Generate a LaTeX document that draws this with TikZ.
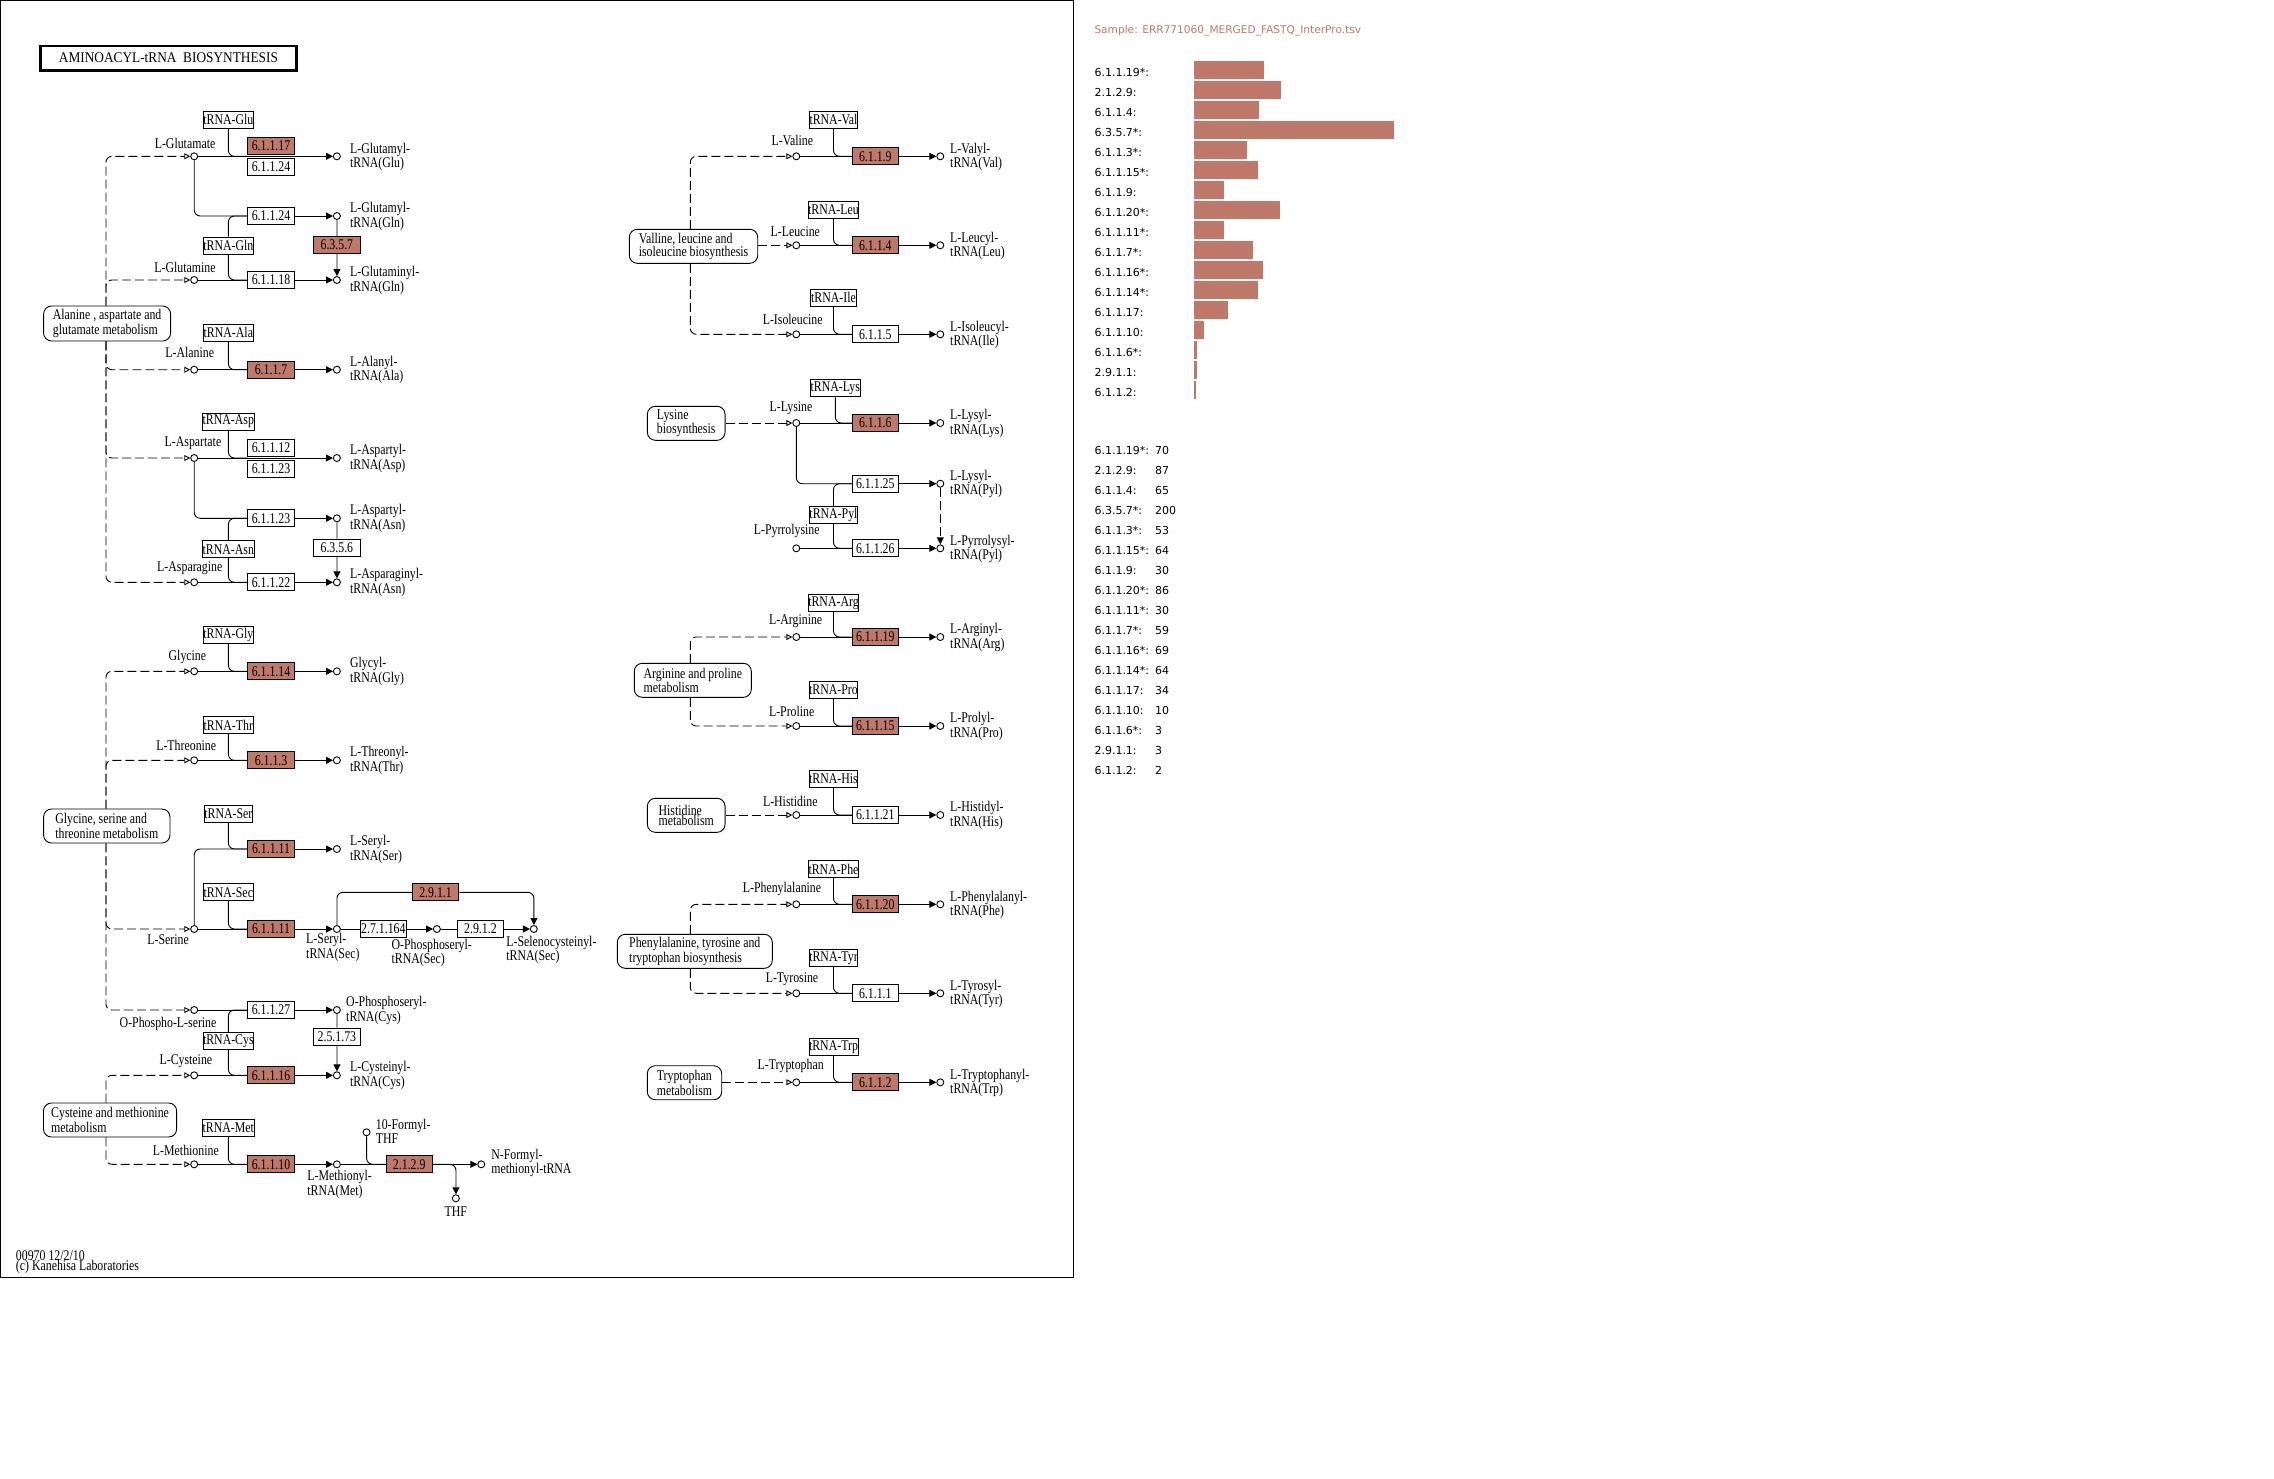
\documentclass[tikz,border=0pt]{standalone}
\usepackage{fontspec}
\usetikzlibrary{arrows.meta}
\newfontfamily\keggwide[FakeStretch=0.8]{Liberation Serif}
\newfontfamily\keggtitle[FakeStretch=0.9]{Liberation Serif}
\newfontfamily\panelfont{DejaVu Sans}
\newcommand\kgwtext{\keggwide\fontsize{14.8}{10.5}\selectfont}
\newcommand\kgwtitle{\keggtitle\fontsize{14.8}{16}\selectfont}
\newcommand\pntext{\panelfont\fontsize{11}{13}\selectfont}
\newcommand\pnsample{\panelfont\fontsize{10.6}{13}\selectfont}
\definecolor{keggred}{RGB}{191,121,107}
\begin{document}
\begin{tikzpicture}[x=1pt,y=-1pt,
  cpd/.style={circle,draw,line width=0.9pt,minimum size=7pt,inner sep=0pt,fill=white},
  ecbox/.style={draw,line width=0.9pt,minimum width=46.3pt,minimum height=17pt,inner sep=0pt,font=\kgwtext,fill=white},
  echi/.style={ecbox,fill=keggred},
  trna/.style={ecbox},
  ecboxR/.style={ecbox,minimum width=46pt},
  echiR/.style={echi,minimum width=46pt},
  trnaR/.style={ecbox,minimum width=46.4pt},
  lbl/.style={font=\kgwtext,inner sep=0pt,align=left},
  lblR/.style={lbl},
  mapbox/.style={draw,line width=0.9pt,rounded corners=8pt,font=\kgwtext,align=left,inner sep=0pt,fill=white},
  mapboxR/.style={mapbox},
  conn/.style={line width=0.9pt,rounded corners=6pt},
  arr/.style={conn,-{Triangle[length=7pt,width=7pt]}},
  dconn/.style={line width=0.9pt,rounded corners=6pt,dash pattern=on 9pt off 4pt,-{Triangle[open,length=6pt,width=6pt]}},
  plab/.style={font=\pntext,anchor=west,inner sep=0pt}]
\useasboundingbox (0,0) rectangle (2274,1478);
\fill[white] (0,0) rectangle (2274,1478);
\draw[line width=1pt] (0.5,0.5) rectangle (1073,1277);

\begin{scope}[xscale=1.1862]
\node[draw,line width=2.5pt,minimum width=256pt,minimum height=24.5pt,inner sep=0pt,font=\kgwtitle] (title) at (142,58) {AMINOACYL-tRNA\ \ BIOSYNTHESIS};

\coordinate (dl) at (89.3,0);

% ---------------- Glutamate / Glutamine
\node[trna] (tGlu) at (192.5,119.5) {tRNA-Glu};
\node[cpd] (cGlu) at (163.7,156.3) {};
\node[lbl] (lGlu) at (156,143) {L-Glutamate};
\node[echi] (e17) at (228.5,145.7) {6.1.1.17};
\node[ecbox] (e24a) at (228.5,167) {6.1.1.24};
\node[cpd] (pGluGlu) at (284,156.3) {};
\node[lbl,anchor=west] (lpGluGlu) at (295,156.7) {L-Glutamyl-\\tRNA(Glu)};
\node[ecbox] (e24b) at (228.5,216) {6.1.1.24};
\node[cpd] (pGluGln) at (284,216) {};
\node[lbl,anchor=west] (lpGluGln) at (295,216.5) {L-Glutamyl-\\tRNA(Gln)};
\node[trna] (tGln) at (192.5,245.5) {tRNA-Gln};
\node[echi] (e6357) at (284,245) {6.3.5.7};
\node[cpd] (cGln) at (163.7,280) {};
\node[lbl] (lGln) at (156,267) {L-Glutamine};
\node[ecbox] (e18) at (228.5,280) {6.1.1.18};
\node[cpd] (pGlnGln) at (284,280) {};
\node[lbl,anchor=west] (lpGlnGln) at (295,280.5) {L-Glutaminyl-\\tRNA(Gln)};

\node[mapbox,minimum width=127pt,minimum height=35pt] (mAla) at (90.3,323.5) {Alanine , aspartate and\\glutamate metabolism};

\draw[conn] (tGlu.south) |- (e17.west |- cGlu);
\draw[arr] (cGlu) -- (pGluGlu);
\draw[conn] (cGlu) |- (e24b.west);
\draw[arr] (e24b.east) -- (pGluGln);
\draw[conn] (tGln.north) |- (e24b.west);
\draw[conn] (tGln.south) |- (e18.west);
\draw[conn] (pGluGln) -- (e6357.north);
\draw[arr] (e6357.south) -- (pGlnGln);
\draw[conn] (cGln) -- (e18.west);
\draw[arr] (e18.east) -- (pGlnGln);

% ---------------- Alanine
\node[trna] (tAla) at (192.5,332.7) {tRNA-Ala};
\node[cpd] (cAla) at (163.7,369.7) {};
\node[lbl] (lAla) at (160,352.7) {L-Alanine};
\node[echi] (e7) at (228.5,369.7) {6.1.1.7};
\node[cpd] (pAla) at (284,369.7) {};
\node[lbl,anchor=west] (lpAla) at (295,370) {L-Alanyl-\\tRNA(Ala)};
\draw[conn] (tAla.south) |- (e7.west);
\draw[conn] (cAla) -- (e7.west);
\draw[arr] (e7.east) -- (pAla);

% ---------------- Aspartate / Asparagine
\node[trna] (tAsp) at (192.5,421.5) {tRNA-Asp};
\node[cpd] (cAsp) at (163.7,458) {};
\node[lbl] (lAsp) at (162.7,442.7) {L-Aspartate};
\node[ecbox] (e12) at (228.5,447.5) {6.1.1.12};
\node[ecbox] (e23a) at (228.5,468.5) {6.1.1.23};
\node[cpd] (pAspAsp) at (284,458) {};
\node[lbl,anchor=west] (lpAspAsp) at (295,458.5) {L-Aspartyl-\\tRNA(Asp)};
\node[ecbox] (e23b) at (228.5,518.3) {6.1.1.23};
\node[cpd] (pAspAsn) at (284,518.3) {};
\node[lbl,anchor=west] (lpAspAsn) at (295,518.5) {L-Aspartyl-\\tRNA(Asn)};
\node[trna] (tAsn) at (192.5,549.2) {tRNA-Asn};
\node[ecbox] (e6356) at (284,547.5) {6.3.5.6};
\node[cpd] (cAsn) at (163.7,582.3) {};
\node[lbl] (lAsn) at (160,568) {L-Asparagine};
\node[ecbox] (e22) at (228.5,582.3) {6.1.1.22};
\node[cpd] (pAsn) at (284,582.3) {};
\node[lbl,anchor=west] (lpAsn) at (295,582.5) {L-Asparaginyl-\\tRNA(Asn)};
\draw[conn] (tAsp.south) |- (e12.west |- cAsp);
\draw[arr] (cAsp) -- (pAspAsp);
\draw[conn] (cAsp) |- (e23b.west);
\draw[arr] (e23b.east) -- (pAspAsn);
\draw[conn] (tAsn.north) |- (e23b.west);
\draw[conn] (tAsn.south) |- (e22.west);
\draw[conn] (pAspAsn) -- (e6356.north);
\draw[arr] (e6356.south) -- (pAsn);
\draw[conn] (cAsn) -- (e22.west);
\draw[arr] (e22.east) -- (pAsn);

\draw[dconn] (mAla.north -| dl) |- (cGlu);
\draw[dconn] (mAla.north -| dl) |- (cGln);
\draw[dconn] (mAla.south -| dl) |- (cAla);
\draw[dconn] (mAla.south -| dl) |- (cAsp);
\draw[dconn] (mAla.south -| dl) |- (cAsn);

% ---------------- Glycine / Threonine / Serine
\node[trna] (tGly) at (192.5,634.5) {tRNA-Gly};
\node[cpd] (cGly) at (163.7,671.3) {};
\node[lbl] (lGly) at (158,656.7) {Glycine};
\node[echi] (e14) at (228.5,671.3) {6.1.1.14};
\node[cpd] (pGly) at (284,671.3) {};
\node[lbl,anchor=west] (lpGly) at (295,671.5) {Glycyl-\\tRNA(Gly)};
\draw[conn] (tGly.south) |- (e14.west);
\draw[conn] (cGly) -- (e14.west);
\draw[arr] (e14.east) -- (pGly);

\node[trna] (tThr) at (192.5,725) {tRNA-Thr};
\node[cpd] (cThr) at (163.7,760.3) {};
\node[lbl] (lThr) at (157,745) {L-Threonine};
\node[echi] (e3) at (228.5,760.3) {6.1.1.3};
\node[cpd] (pThr) at (284,760.3) {};
\node[lbl,anchor=west] (lpThr) at (295,760.5) {L-Threonyl-\\tRNA(Thr)};
\draw[conn] (tThr.south) |- (e3.west);
\draw[conn] (cThr) -- (e3.west);
\draw[arr] (e3.east) -- (pThr);

\node[mapbox,minimum width=126.4pt,minimum height=34pt] (mGly) at (90,826) {Glycine, serine and\\threonine metabolism};

\node[trna] (tSer) at (192.5,814) {tRNA-Ser};
\node[echi] (e11a) at (228.5,849) {6.1.1.11};
\node[cpd] (pSer) at (284,849) {};
\node[lbl,anchor=west] (lpSer) at (295,849.5) {L-Seryl-\\tRNA(Ser)};
\node[trna] (tSec) at (192.5,892.2) {tRNA-Sec};
\node[echi] (e2911) at (367.2,892.3) {2.9.1.1};
\node[cpd] (cSer) at (163.7,929) {};
\node[lbl] (lSer) at (141.7,940) {L-Serine};
\node[echi] (e11b) at (228.5,929) {6.1.1.11};
\node[cpd] (pSerSec) at (284,929) {};
\node[lbl,anchor=west] (lpSerSec) at (258,947.5) {L-Seryl-\\tRNA(Sec)};
\node[ecbox] (e27164) at (323.2,929) {2.7.1.164};
\node[cpd] (pOphSec) at (368.3,929) {};
\node[lbl,anchor=west] (lpOphSec) at (330,953) {O-Phosphoseryl-\\tRNA(Sec)};
\node[ecbox] (e2912) at (405,929) {2.9.1.2};
\node[cpd] (pSelSec) at (450,929) {};
\node[lbl,anchor=west] (lpSelSec) at (426.7,950) {L-Selenocysteinyl-\\tRNA(Sec)};
\draw[conn] (cSer) |- (e11a.west);
\draw[conn] (tSer.south) |- (e11a.west);
\draw[arr] (e11a.east) -- (pSer);
\draw[conn] (tSec.south) |- (e11b.west);
\draw[conn] (cSer) -- (e11b.west);
\draw[arr] (e11b.east) -- (pSerSec);
\draw[conn] (pSerSec) -- (e27164.west);
\draw[arr] (e27164.east) -- (pOphSec);
\draw[conn] (pOphSec) -- (e2912.west);
\draw[arr] (e2912.east) -- (pSelSec);
\draw[conn] (pSerSec) |- (e2911.west);
\draw[arr] (e2911.east) -| (pSelSec);

% ---------------- O-Phospho-L-serine / Cysteine
\node[cpd] (cOph) at (163.7,1010) {};
\node[lbl] (lOph) at (141.7,1024) {O-Phospho-L-serine};
\node[ecbox] (e27) at (228.5,1010) {6.1.1.27};
\node[cpd] (pOphCys) at (284,1010) {};
\node[lbl,anchor=west] (lpOphCys) at (291.7,1010.5) {O-Phosphoseryl-\\tRNA(Cys)};
\node[trna] (tCys) at (192.5,1041) {tRNA-Cys};
\node[ecbox] (e25173) at (284,1036.5) {2.5.1.73};
\node[cpd] (cCys) at (163.7,1075.3) {};
\node[lbl] (lCys) at (156.7,1060.7) {L-Cysteine};
\node[echi] (e16) at (228.5,1075.3) {6.1.1.16};
\node[cpd] (pCys) at (284,1075.3) {};
\node[lbl,anchor=west] (lpCys) at (295,1075.5) {L-Cysteinyl-\\tRNA(Cys)};
\draw[conn] (cOph) -- (e27.west);
\draw[arr] (e27.east) -- (pOphCys);
\draw[conn] (tCys.north) |- (e27.west);
\draw[conn] (tCys.south) |- (e16.west);
\draw[conn] (pOphCys) -- (e25173.north);
\draw[arr] (e25173.south) -- (pCys);
\draw[conn] (cCys) -- (e16.west);
\draw[arr] (e16.east) -- (pCys);

\draw[dconn] (mGly.north -| dl) |- (cGly);
\draw[dconn] (mGly.north -| dl) |- (cThr);
\draw[dconn] (mGly.south -| dl) |- (cSer);
\draw[dconn] (mGly.south -| dl) |- (cOph);

\node[mapbox,minimum width=133.2pt,minimum height=34pt] (mCys) at (92.8,1120) {Cysteine and methionine\\metabolism};

% ---------------- Methionine
\node[trna] (tMet) at (192.5,1127.5) {tRNA-Met};
\node[cpd] (cMet) at (163.7,1164.3) {};
\node[lbl] (lMet) at (156.7,1150) {L-Methionine};
\node[echi] (e10) at (228.5,1164.3) {6.1.1.10};
\node[cpd] (pMet) at (284,1164.3) {};
\node[lbl,anchor=west] (lpMet) at (259,1184.5) {L-Methionyl-\\tRNA(Met)};
\node[cpd] (cFthf) at (309,1132.3) {};
\node[lbl,anchor=west] (lFthf) at (316.7,1131.5) {10-Formyl-\\THF};
\node[echi] (e2129) at (345,1164.3) {2.1.2.9};
\node[cpd] (pFmet) at (405.7,1164.3) {};
\node[lbl,anchor=west] (lpFmet) at (414,1163) {N-Formyl-\\methionyl-tRNA};
\node[cpd] (cThf) at (384.3,1198.3) {};
\node[lbl] (lThf) at (384.3,1211.7) {THF};
\draw[conn] (tMet.south) |- (e10.west);
\draw[conn] (cMet) -- (e10.west);
\draw[arr] (e10.east) -- (pMet);
\draw[conn] (pMet) -- (e2129.west);
\draw[conn] (cFthf) |- (e2129.west);
\draw[arr] (e2129.east) -- (pFmet);
\draw[arr] (e2129.east) -| (cThf);

\draw[dconn] (mCys.north -| dl) |- (cCys);
\draw[dconn] (mCys.south -| dl) |- (cMet);

\node[lbl,anchor=west] (foot) at (13.3,1262) {00970 12/2/10\\(c) Kanehisa Laboratories};
\end{scope}

% ================= Right column
\coordinate (dr) at (690.3,0);
% Val / Leu / Ile
\node[trnaR] (tVal) at (833.5,119.8) {tRNA-Val};
\node[cpd] (cVal) at (796.3,156.3) {};
\node[lblR] (lVal) at (792.3,140.7) {L-Valine};
\node[echiR] (e9) at (875.3,156.3) {6.1.1.9};
\node[cpd] (pVal) at (940.3,156.3) {};
\node[lblR,anchor=west] (lpVal) at (950,157) {L-Valyl-\\tRNA(Val)};
\node[trnaR] (tLeu) at (833.5,210) {tRNA-Leu};
\node[cpd] (cLeu) at (796.3,245.3) {};
\node[lblR] (lLeu) at (795.3,231.7) {L-Leucine};
\node[echiR] (e4) at (875.3,245.3) {6.1.1.4};
\node[cpd] (pLeu) at (940.3,245.3) {};
\node[lblR,anchor=west] (lpLeu) at (950,246) {L-Leucyl-\\tRNA(Leu)};
\node[mapboxR,minimum width=128.4pt,minimum height=34pt] (mVal) at (693.5,246.3) {Valline, leucine and\\isoleucine biosynthesis};
\node[trnaR] (tIle) at (833.5,297.8) {tRNA-Ile};
\node[cpd] (cIle) at (796.3,334.3) {};
\node[lblR] (lIle) at (792.7,319.7) {L-Isoleucine};
\node[ecboxR] (e5) at (875.3,334.3) {6.1.1.5};
\node[cpd] (pIle) at (940.3,334.3) {};
\node[lblR,anchor=west] (lpIle) at (950,335) {L-Isoleucyl-\\tRNA(Ile)};
\foreach \c/\e/\t/\p in {cVal/e9/tVal/pVal,cLeu/e4/tLeu/pLeu,cIle/e5/tIle/pIle}{
  \draw[conn] (\t.south) |- (\e.west);
  \draw[conn] (\c) -- (\e.west);
  \draw[arr] (\e.east) -- (\p);
}
\draw[dconn] (mVal.north -| dr) |- (cVal);
\draw[dconn] (mVal.east |- cLeu) -- (cLeu);
\draw[dconn] (mVal.south -| dr) |- (cIle);

% Lys / Pyl
\node[trnaR] (tLys) at (835.3,388.3) {tRNA-Lys};
\node[cpd] (cLys) at (796.3,423) {};
\node[lblR] (lLys) at (791,408) {L-Lysine};
\node[echiR] (e6) at (875.3,423) {6.1.1.6};
\node[cpd] (pLys) at (940.3,423) {};
\node[lblR,anchor=west] (lpLys) at (950,423.5) {L-Lysyl-\\tRNA(Lys)};
\node[mapboxR,minimum width=77.7pt,minimum height=34pt] (mLys) at (686.2,423.3) {Lysine\\biosynthesis};
\node[ecboxR] (e25) at (875.3,483.7) {6.1.1.25};
\node[cpd] (pLysPyl) at (940.3,483.7) {};
\node[lblR,anchor=west] (lpLysPyl) at (950,484) {L-Lysyl-\\tRNA(Pyl)};
\node[trnaR] (tPyl) at (833.5,514.8) {tRNA-Pyl};
\node[cpd] (cPyl) at (796.3,548.3) {};
\node[lblR] (lPyl) at (786.7,530.7) {L-Pyrrolysine};
\node[ecboxR] (e26) at (875.3,548.3) {6.1.1.26};
\node[cpd] (pPyl) at (940.3,548.3) {};
\node[lblR,anchor=west] (lpPyl) at (950,549) {L-Pyrrolysyl-\\tRNA(Pyl)};
\draw[conn] (tLys.south) |- (e6.west);
\draw[conn] (cLys) -- (e6.west);
\draw[arr] (e6.east) -- (pLys);
\draw[dconn] (mLys.east |- cLys) -- (cLys);
\draw[conn] (cLys) |- (e25.west);
\draw[arr] (e25.east) -- (pLysPyl);
\draw[conn] (tPyl.north) |- (e25.west);
\draw[conn] (tPyl.south) |- (e26.west);
\draw[conn] (cPyl) -- (e26.west);
\draw[arr] (e26.east) -- (pPyl);
\draw[line width=0.9pt,dash pattern=on 9pt off 4pt,-{Triangle[length=7pt,width=7pt]}] (pLysPyl) -- (pPyl);

% Arg / Pro
\node[trnaR] (tArg) at (833.5,603) {tRNA-Arg};
\node[cpd] (cArg) at (796.3,637) {};
\node[lblR] (lArg) at (795.7,620.7) {L-Arginine};
\node[echiR] (e19) at (875.3,637) {6.1.1.19};
\node[cpd] (pArg) at (940.3,637) {};
\node[lblR,anchor=west] (lpArg) at (950,637.5) {L-Arginyl-\\tRNA(Arg)};
\node[mapboxR,minimum width=117pt,minimum height=34pt] (mArg) at (692.8,680.3) {Arginine and proline\\metabolism};
\node[trnaR] (tPro) at (833.5,690) {tRNA-Pro};
\node[cpd] (cPro) at (796.3,726) {};
\node[lblR] (lPro) at (791.7,711.7) {L-Proline};
\node[echiR] (e15) at (875.3,726) {6.1.1.15};
\node[cpd] (pPro) at (940.3,726) {};
\node[lblR,anchor=west] (lpPro) at (950,726.5) {L-Prolyl-\\tRNA(Pro)};
\foreach \c/\e/\t/\p in {cArg/e19/tArg/pArg,cPro/e15/tPro/pPro}{
  \draw[conn] (\t.south) |- (\e.west);
  \draw[conn] (\c) -- (\e.west);
  \draw[arr] (\e.east) -- (\p);
}
\draw[dconn] (mArg.north -| dr) |- (cArg);
\draw[dconn] (mArg.south -| dr) |- (cPro);

% His
\node[trnaR] (tHis) at (833.5,779) {tRNA-His};
\node[cpd] (cHis) at (796.3,815) {};
\node[lblR] (lHis) at (790.3,801.7) {L-Histidine};
\node[ecboxR] (e21) at (875.3,815) {6.1.1.21};
\node[cpd] (pHis) at (940.3,815) {};
\node[lblR,anchor=west] (lpHis) at (950,815.5) {L-Histidyl-\\tRNA(His)};
\node[mapboxR,minimum width=77.7pt,minimum height=34pt] (mHis) at (686.2,815.3) {Histidine\\metabolism};
\draw[conn] (tHis.south) |- (e21.west);
\draw[conn] (cHis) -- (e21.west);
\draw[arr] (e21.east) -- (pHis);
\draw[dconn] (mHis.east |- cHis) -- (cHis);

% Phe / Tyr
\node[trnaR] (tPhe) at (833.5,869) {tRNA-Phe};
\node[cpd] (cPhe) at (796.3,904.3) {};
\node[lblR] (lPhe) at (782,889.3) {L-Phenylalanine};
\node[echiR] (e20) at (875.3,904.3) {6.1.1.20};
\node[cpd] (pPhe) at (940.3,904.3) {};
\node[lblR,anchor=west] (lpPhe) at (950,905) {L-Phenylalanyl-\\tRNA(Phe)};
\node[mapboxR,minimum width=155pt,minimum height=34pt] (mPhe) at (694.8,951.3) {Phenylalanine, tyrosine and\\tryptophan biosynthesis};
\node[trnaR] (tTyr) at (833.5,958) {tRNA-Tyr};
\node[cpd] (cTyr) at (796.3,993.3) {};
\node[lblR] (lTyr) at (792,978.7) {L-Tyrosine};
\node[ecboxR] (e1) at (875.3,993.3) {6.1.1.1};
\node[cpd] (pTyr) at (940.3,993.3) {};
\node[lblR,anchor=west] (lpTyr) at (950,994) {L-Tyrosyl-\\tRNA(Tyr)};
\foreach \c/\e/\t/\p in {cPhe/e20/tPhe/pPhe,cTyr/e1/tTyr/pTyr}{
  \draw[conn] (\t.south) |- (\e.west);
  \draw[conn] (\c) -- (\e.west);
  \draw[arr] (\e.east) -- (\p);
}
\draw[dconn] (mPhe.north -| dr) |- (cPhe);
\draw[dconn] (mPhe.south -| dr) |- (cTyr);

% Trp
\node[trnaR] (tTrp) at (833.5,1047) {tRNA-Trp};
\node[cpd] (cTrp) at (796.3,1082.3) {};
\node[lblR] (lTrp) at (790.7,1066) {L-Tryptophan};
\node[echiR] (e2) at (875.3,1082.3) {6.1.1.2};
\node[cpd] (pTrp) at (940.3,1082.3) {};
\node[lblR,anchor=west] (lpTrp) at (950,1083) {L-Tryptophanyl-\\tRNA(Trp)};
\node[mapboxR,minimum width=74.4pt,minimum height=34pt] (mTrp) at (684.5,1082.7) {Tryptophan\\metabolism};
\draw[conn] (tTrp.south) |- (e2.west);
\draw[conn] (cTrp) -- (e2.west);
\draw[arr] (e2.east) -- (pTrp);
\draw[dconn] (mTrp.east |- cTrp) -- (cTrp);

% ================= Side panel
\node[plab,font=\pnsample,text=keggred] (sample) at (1094.3,30.7) {Sample: ERR771060\_MERGED\_FASTQ\_InterPro.tsv};
\foreach \v/\t [count=\i from 0] in {70/{6.1.1.19*:},87/{2.1.2.9:},65/{6.1.1.4:},200/{6.3.5.7*:},53/{6.1.1.3*:},64/{6.1.1.15*:},30/{6.1.1.9:},86/{6.1.1.20*:},30/{6.1.1.11*:},59/{6.1.1.7*:},69/{6.1.1.16*:},64/{6.1.1.14*:},34/{6.1.1.17:},10/{6.1.1.10:},3/{6.1.1.6*:},3/{2.9.1.1:},2/{6.1.1.2:}}{
  \fill[keggred] (1194,61+20*\i) rectangle (1194+\v,78.7+20*\i);
  \node[plab] (bl\i) at (1094.3,72+20*\i) {\t};
  \node[plab] (vl\i) at (1094.3,450.7+20*\i) {\t};
  \node[plab] (vv\i) at (1155,450.7+20*\i) {\v};
}
\end{tikzpicture}
\end{document}
